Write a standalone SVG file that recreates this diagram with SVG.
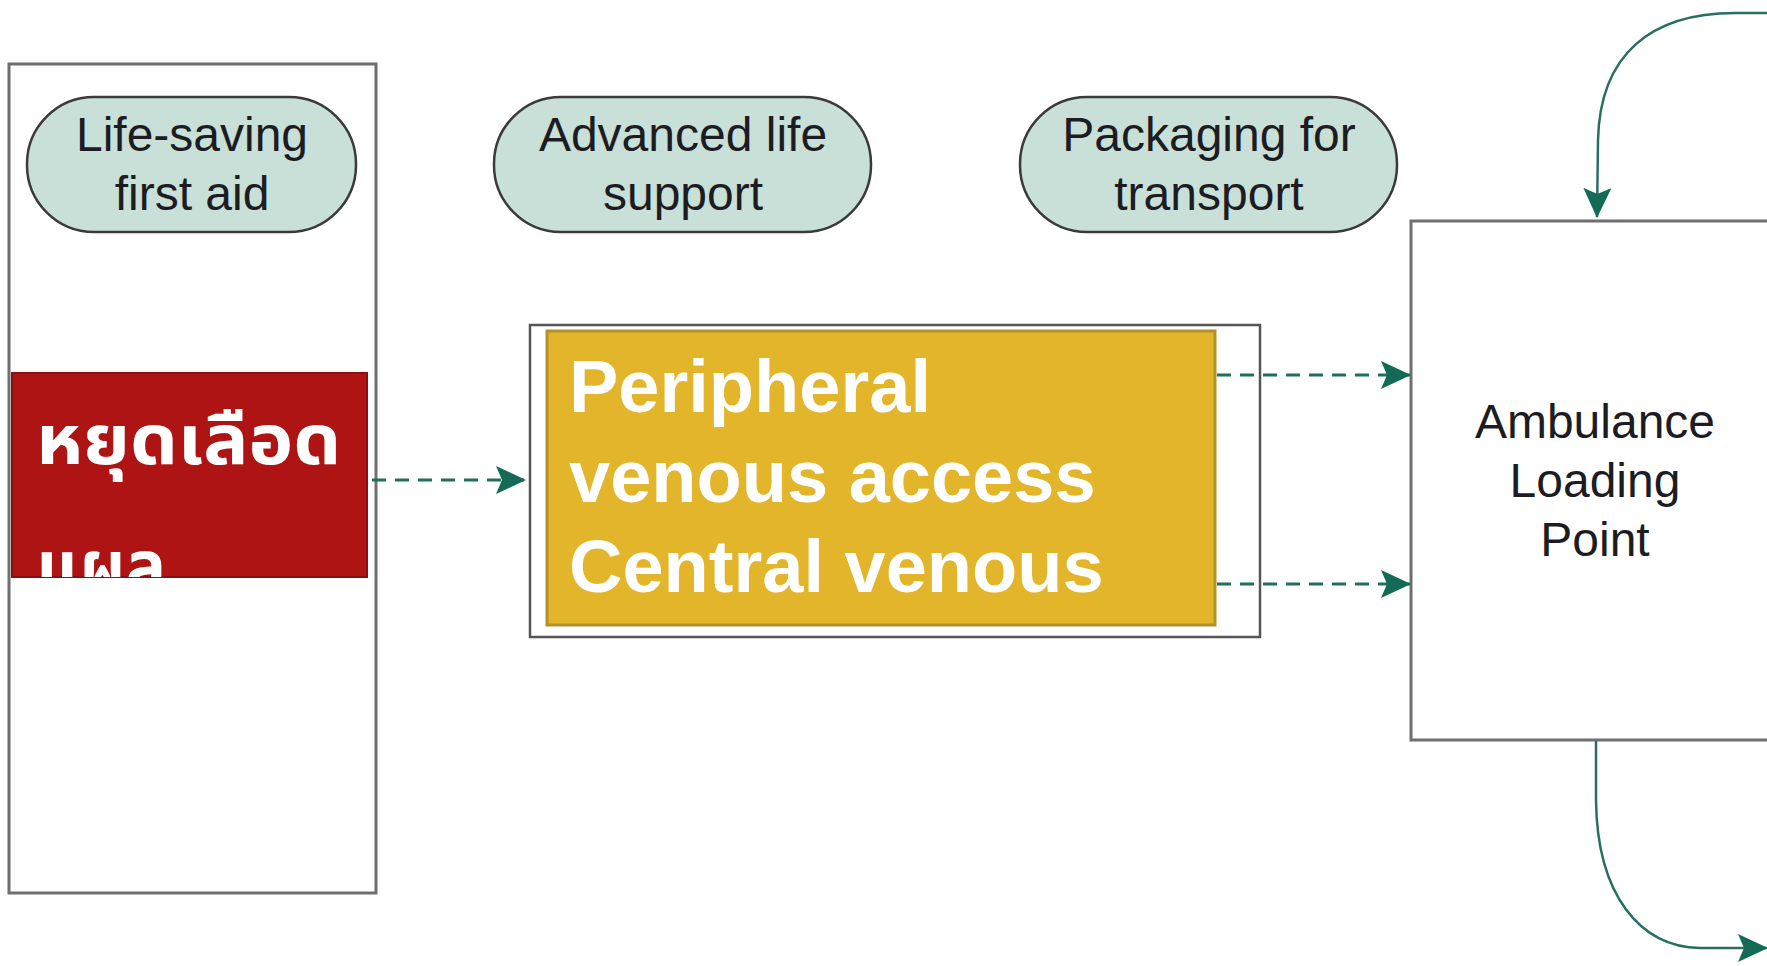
<svg xmlns="http://www.w3.org/2000/svg" width="1767" height="966" viewBox="0 0 1767 966">
<style>
.frame{fill:#fff;stroke:#6f6f6f;stroke-width:3}
.pill{fill:#c9e0d9;stroke:#3a3a3a;stroke-width:2.5}
.lbl{font-family:"Liberation Sans",Arial,sans-serif;font-size:48px;fill:#1c1c22;text-anchor:middle}
.big{font-family:"Liberation Sans",Arial,sans-serif;font-size:74px;font-weight:bold;fill:#fff}
.thai{font-family:"Noto Sans Thai","Noto Sans Thai UI","Tahoma","Noto Sans","DejaVu Sans",sans-serif;font-size:70px;font-weight:bold;fill:#fff}
.dash{fill:none;stroke:#1f6f5c;stroke-width:3;stroke-dasharray:14 9}
.curve{fill:none;stroke:#2a6e62;stroke-width:2.5}
</style>
<defs>
<marker id="ah" viewBox="0 0 30 28" refX="29" refY="14" markerWidth="30" markerHeight="28" markerUnits="userSpaceOnUse" orient="auto">
<path d="M0,0 L30,14 L0,28 L6,14 Z" fill="#136b55"/>
</marker>
<clipPath id="redclip"><rect x="11" y="373" width="356" height="204"/></clipPath>
</defs>
<rect width="1767" height="966" fill="#fff"/>

<g id="lane-first-aid">
<rect class="frame" x="9" y="64" width="367" height="829"/>
</g>

<g id="pill-life-saving">
<rect class="pill" x="27" y="97" width="329" height="135" rx="67" ry="67"/>
<text class="lbl" x="192" y="151">Life-saving</text>
<text class="lbl" x="192" y="210">first aid</text>
</g>

<g id="pill-advanced">
<rect class="pill" x="494" y="97" width="377" height="135" rx="67" ry="67"/>
<text class="lbl" x="683" y="151">Advanced life</text>
<text class="lbl" x="683" y="210">support</text>
</g>

<g id="pill-packaging">
<rect class="pill" x="1020" y="97" width="377" height="135" rx="67" ry="67"/>
<text class="lbl" x="1209" y="151">Packaging for</text>
<text class="lbl" x="1209" y="210">transport</text>
</g>

<g id="node-stop-bleeding">
<rect x="12" y="373" width="355" height="204" fill="#ae1414" stroke="#8c0f0f" stroke-width="2"/>
<g clip-path="url(#redclip)">
<text class="thai" x="36" y="464" textLength="305" lengthAdjust="spacingAndGlyphs">หยุดเลือด</text>
<text class="thai" x="36" y="590" textLength="130" lengthAdjust="spacingAndGlyphs">แผล</text>
</g>
</g>

<g id="node-venous">
<rect x="530" y="325" width="730" height="312" fill="#fff" stroke="#555" stroke-width="2.5"/>
<rect x="547" y="331" width="668" height="294" fill="#e3b52a" stroke="#b3902c" stroke-width="3"/>
<text class="big" x="569" y="412">Peripheral</text>
<text class="big" x="569" y="502">venous access</text>
<text class="big" x="569" y="592">Central venous</text>
</g>

<g id="node-ambulance">
<rect class="frame" x="1411" y="221" width="370" height="519"/>
<text class="lbl" x="1595" y="438">Ambulance</text>
<text class="lbl" x="1595" y="497">Loading</text>
<text class="lbl" x="1595" y="556">Point</text>
</g>

<g id="connectors">
<path class="dash" d="M372 480 L525 480" marker-end="url(#ah)"/>
<path class="dash" d="M1217 375 L1410 375" marker-end="url(#ah)"/>
<path class="dash" d="M1217 584 L1410 584" marker-end="url(#ah)"/>
<path class="curve" d="M1770 13 L1735 13 C1650 13 1600 55 1598 140 L1597 217" marker-end="url(#ah)"/>
<path class="curve" d="M1596 741 L1596 800 C1597 895 1640 947 1700 948 L1767 948" marker-end="url(#ah)"/>
</g>
</svg>
